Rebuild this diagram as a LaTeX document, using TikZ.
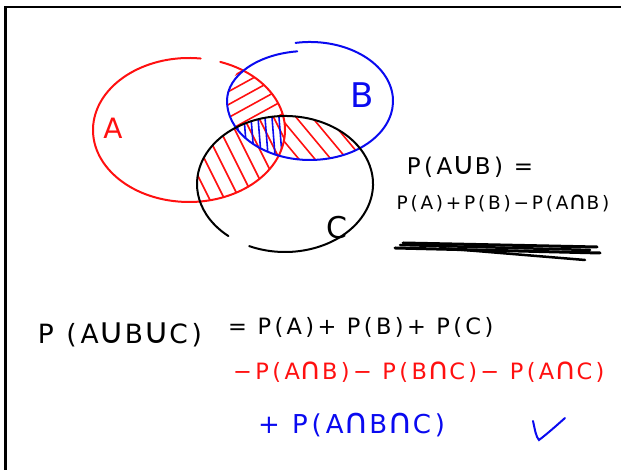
\documentclass[tikz,border=0pt]{standalone}
\usepackage{fontspec}
\setmainfont[LetterSpace=15]{DejaVu Sans}
\usetikzlibrary{calc,positioning}
\definecolor{inkred}{HTML}{FF1010}
\definecolor{inkblue}{HTML}{0A0AF0}
\newcommand\setcup{\scalebox{1.35}{∪}}
\newcommand\setcap{\scalebox{1.35}{∩}}

\begin{document}
\begin{tikzpicture}[x=1pt, y=1pt,
  ink/.style={line width=2pt, line cap=round},
  hatch/.style={line width=1.6pt, line cap=round},
  hand/.style={inner sep=0pt, font=\fontsize{22.5}{26}\selectfont}]
  \useasboundingbox (0,0) rectangle (621,470);
  % board frame
  \draw[line width=2.5pt] (5.5,0) -- (5.5,463) -- (621,463);
  \coordinate (acen) at (189,340);
  \coordinate (bcen) at (310,369);
  \coordinate (ccen) at (285,286);
  % hatching of the overlaps
  \begin{scope}[even odd rule]
    \clip (acen) ellipse [x radius=96, y radius=72];
    \clip (bcen) ellipse [x radius=83, y radius=59];
    \clip (0,0) rectangle (621,470) (ccen) ellipse [x radius=88, y radius=68];
    \foreach \k in {-6,...,6}
      \draw[hatch, inkred] ($(255,380)+(0,\k*13)$) ++(-60,-33) -- ++(120,66);
  \end{scope}
  \begin{scope}
    \clip (acen) ellipse [x radius=96, y radius=72];
    \clip (ccen) ellipse [x radius=88, y radius=68];
    \foreach \k in {-6,...,6}
      \draw[hatch, inkred] ($(235,310)+(\k*15,0)$) ++(-45,90) -- ++(90,-180);
  \end{scope}
  \begin{scope}[even odd rule]
    \clip (bcen) ellipse [x radius=83, y radius=59];
    \clip (ccen) ellipse [x radius=88, y radius=68];
    \clip (0,0) rectangle (621,470) (acen) ellipse [x radius=96, y radius=72];
    \foreach \k in {-5,...,5}
      \draw[hatch, inkred] ($(315,330)+(\k*16,0)$) ++(-30,36) -- ++(60,-72);
  \end{scope}
  \begin{scope}
    \clip (acen) ellipse [x radius=96, y radius=72];
    \clip (bcen) ellipse [x radius=83, y radius=59];
    \clip (ccen) ellipse [x radius=88, y radius=68];
    \foreach \k in {0,...,9}
      \draw[hatch, inkblue] ($(224,340)+(\k*7,0)$) ++(-2,25) -- ++(4,-50);
  \end{scope}
  % the three sets
  \draw[ink, inkred] (acen) ++(83:96 and 72)
    arc[start angle=83, end angle=431, x radius=96, y radius=72];
  \draw[ink, inkblue] (bcen) ++(100:83 and 59)
    arc[start angle=100, end angle=-180, x radius=83, y radius=59]
    arc[start angle=180, end angle=97, x radius=80, y radius=50];
  \draw[ink] (ccen) ++(246:88 and 68)
    arc[start angle=246, end angle=590, x radius=88, y radius=68];
  \node[hand, inkred, font=\fontsize{28}{30}\selectfont] (la) at (113,342) {A};
  \node[hand, inkblue, font=\fontsize{34}{36}\selectfont] (lb) at (362,375) {B};
  \node[hand, font=\fontsize{30}{32}\selectfont] (lc) at (337,242) {C};
  % union of two sets
  \node[hand, font=\fontsize{23}{26}\selectfont] (uab) at (470,303) {P(A\setcup B) =};
  \node[hand, font=\fontsize{18.5}{22}\selectfont] (uabr) at (503,267) {P(A)+P(B)−P(A\setcap B)};
  \draw[ink, line width=3pt] (403,227) -- (597,223);
  \draw[ink, line width=3pt] (395,222) -- (600,217);
  \draw[ink, line width=2.5pt] (440,222) -- (585,210);
  \draw[ink, line width=2.5pt] (400,225) -- (590,220);
  % union of three sets
  \node[hand, font=\fontsize{26.5}{30}\selectfont] (uabc) at (120,135) {P (A\setcup B\setcup C)};
  \node[hand, anchor=west] (sum1) at (228,143) {= P(A)+ P(B)+ P(C)};
  \node[hand, inkred, anchor=west] (sum2) at (233,98) {−P(A\setcap B)− P(B\setcap C)− P(A\setcap C)};
  \node[hand, inkblue, anchor=west, font=\fontsize{26}{30}\selectfont] (sum3) at (258,45) {+ P(A\setcap B\setcap C)};
  % tick
  \draw[ink, inkblue] (533,49) .. controls (535,40) and (536,33) .. (539,30)
    .. controls (547,36) and (556,44) .. (565,52);
\end{tikzpicture}
\end{document}
